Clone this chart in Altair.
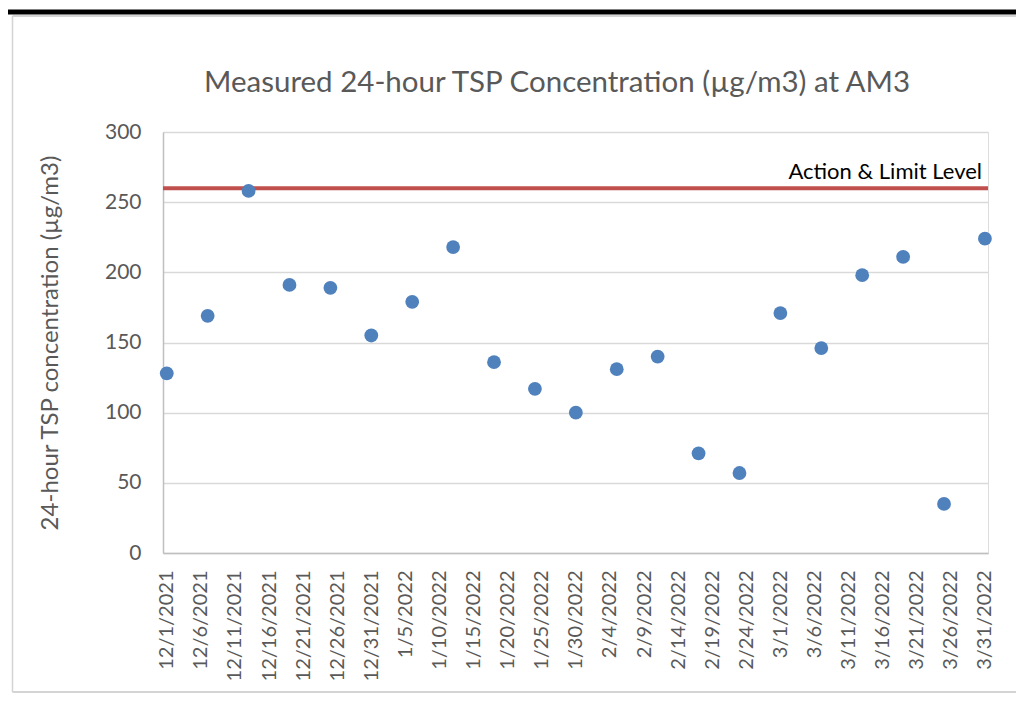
import json
import altair as alt
import pandas as pd

# ---- data ----
dates = ["2021-12-01", "2021-12-07", "2021-12-13", "2021-12-19", "2021-12-25", "2021-12-31",
         "2022-01-06", "2022-01-12", "2022-01-18", "2022-01-24", "2022-01-30", "2022-02-05",
         "2022-02-11", "2022-02-17", "2022-02-23", "2022-03-01", "2022-03-07", "2022-03-13",
         "2022-03-19", "2022-03-25", "2022-03-31"]
tsp = [128, 169, 258, 191, 189, 155, 179, 218, 136, 117, 100, 131,
       140, 71, 57, 171, 146, 198, 211, 35, 224]
limit_level = [260]
limit_label = ["Action & Limit Level"]
tick_labels = ["12/1/2021", "12/6/2021", "12/11/2021", "12/16/2021", "12/21/2021", "12/26/2021",
               "12/31/2021", "1/5/2022", "1/10/2022", "1/15/2022", "1/20/2022", "1/25/2022",
               "1/30/2022", "2/4/2022", "2/9/2022", "2/14/2022", "2/19/2022", "2/24/2022",
               "3/1/2022", "3/6/2022", "3/11/2022", "3/16/2022", "3/21/2022", "3/26/2022",
               "3/31/2022"]
y_ticks = [0, 50, 100, 150, 200, 250, 300]

title_text = ["Measured 24-hour TSP Concentration (µg/m3) at AM3"]
y_title = "24-hour TSP concentration (µg/m3)"

FONT = "Lato"
GREY = "#595959"
W, H = 825, 421
PAD_L, PAD_T, PAD_R, PAD_B = 155, 124, 28, 140

start = pd.Timestamp("2021-12-01")
df = pd.DataFrame({"date": dates, "tsp": tsp})
df["day"] = (pd.to_datetime(df["date"]) - start).dt.days
tick_days = [int((pd.to_datetime(t, format="%m/%d/%Y") - start).days) for t in tick_labels]
label_expr = f"{json.dumps(tick_labels)}[round(datum.value/5)]"

limit_df = pd.DataFrame({"level": limit_level, "label": limit_label})
title_df = pd.DataFrame({"title": title_text})

x_scale = alt.Scale(domain=[-0.55, 120.45], nice=False, zero=False)
y_scale = alt.Scale(domain=[0, 300], nice=False)

points = alt.Chart(df).mark_circle(size=190, color="#4F81BD", opacity=1).encode(
    x=alt.X("day:Q", scale=x_scale,
            axis=alt.Axis(values=tick_days, labelExpr=label_expr, labelAngle=270,
                          grid=False, ticks=False, domainColor="#bfbfbf", domainWidth=1.5,
                          labelColor=GREY, labelFont=FONT, labelFontSize=20,
                          labelPadding=17, title=None, labelOverlap=False, labelFlush=False)),
    y=alt.Y("tsp:Q", scale=y_scale,
            axis=alt.Axis(values=y_ticks, grid=True, gridColor="#d9d9d9", gridWidth=1.5,
                          ticks=False, domainColor="#bfbfbf", domainWidth=1.5,
                          labelColor=GREY, labelFont=FONT, labelFontSize=21, labelPadding=22,
                          title=y_title, titleColor=GREY, titleFont=FONT, titleFontSize=24,
                          titleFontWeight="normal", titleAngle=270, titleX=-113, titleY=H / 2,
                          titleAlign="center", titleBaseline="middle")),
)

limit_rule = alt.Chart(limit_df).mark_rule(color="#C0504D", strokeWidth=4).encode(
    y=alt.Y("level:Q", scale=y_scale)
)

limit_text = alt.Chart(limit_df).mark_text(
    align="right", baseline="alphabetic", dy=-9, font=FONT, fontSize=22, color="#000000"
).encode(
    y=alt.Y("level:Q", scale=y_scale),
    x=alt.value(W - 6),
    text="label:N",
)

title_mark = alt.Chart(title_df).mark_text(
    align="center", baseline="alphabetic", font=FONT, fontSize=29.5, color=GREY
).encode(x=alt.value(394), y=alt.value(-40), text="title:N")

# decorative frame around the chart and the dark bar above it
FRAME = "#d4d4d4"
L, R, T, B = -150.5, W + PAD_R, -116, H + PAD_B - 1
frame_top = alt.Chart(limit_df).mark_rule(color=FRAME, strokeWidth=2).encode(
    x=alt.value(L), x2=alt.value(R), y=alt.value(T))
frame_bottom = alt.Chart(limit_df).mark_rule(color=FRAME, strokeWidth=2).encode(
    x=alt.value(L), x2=alt.value(R), y=alt.value(B))
frame_left = alt.Chart(limit_df).mark_rule(color=FRAME, strokeWidth=1.5).encode(
    x=alt.value(L), y=alt.value(T), y2=alt.value(B))
topbar = alt.Chart(limit_df).mark_rule(color="#000000", strokeWidth=5).encode(
    x=alt.value(-PAD_L), x2=alt.value(W + PAD_R), y=alt.value(-120)
)

chart = alt.layer(frame_top, frame_bottom, frame_left, topbar,
                  limit_rule, points, limit_text, title_mark).properties(
    width=W, height=H,
    autosize=alt.AutoSizeParams(type="none"),
    padding={"left": PAD_L, "top": PAD_T, "right": PAD_R, "bottom": PAD_B},
).configure_view(stroke=None).configure(background="white")

chart.save("out.html", embed_options={"renderer": "svg", "actions": False})
